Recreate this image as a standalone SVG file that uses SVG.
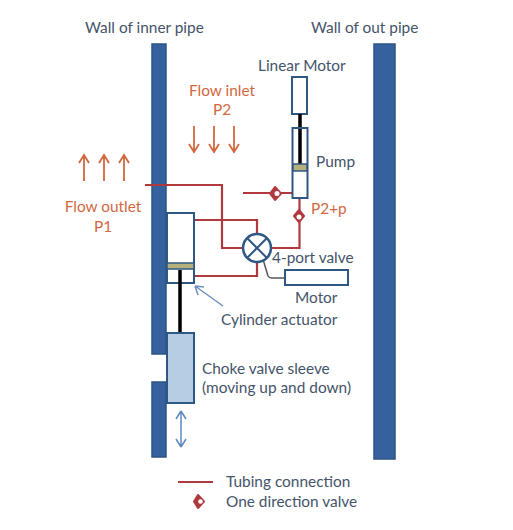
<svg xmlns="http://www.w3.org/2000/svg" width="513" height="530" viewBox="0 0 513 530">
<style>
text{font-family:"Lato","Open Sans","Liberation Sans",sans-serif;font-size:15.400px}
.d{fill:#44546a}.o{fill:#d2683f}
.wall{fill:#35629f;stroke:#2c5486;stroke-width:1.5}
.box{fill:#fff;stroke:#2f5783;stroke-width:2}
.t{fill:none;stroke:#b0393f;stroke-width:2.2}
.rod{stroke:#000;stroke-width:3.5}
.pis{fill:#b5b07c;stroke:#2f5783;stroke-width:1.5}
.ar{fill:none;stroke:#d2683f;stroke-width:1.8}
.vf{fill:#b0393f;stroke:#b0393f;stroke-width:2;stroke-linejoin:round}
</style>
<rect width="513" height="530" fill="#fff"/>
<g id="walls">
<path class="wall" d="M152 44H166V354H152Z"/>
<path class="wall" d="M152 382H166V457H152Z"/>
<rect class="wall" x="374" y="44" width="21" height="415"/>
</g>
<g id="connectors">
<path class="t" d="M145 185H222V248H244"/>
<path class="t" d="M194 220H257V234"/>
<path class="t" d="M194 276H257V262"/>
<path class="t" d="M271 248H299.500V199"/>
<path class="t" d="M243 193H292"/>
<path d="M262 256L268 276Q269 278 272 278H285" fill="none" stroke="#555" stroke-width="1.5"/>
<path d="M223 306L195 286M195 286l9 1M195 286l3 9" fill="none" stroke="#6f8fc0" stroke-width="1.5"/>
<path d="M181 411V447M181 411l-5 8M181 411l5 8M181 447l-5 -8M181 447l5 -8" fill="none" stroke="#5f88c0" stroke-width="1.5"/>
</g>
<g id="linear-motor"><rect class="box" x="292" y="77" width="15" height="37"/><text class="d" x="258" y="71">Linear Motor</text></g>
<g id="pump">
<line class="rod" x1="300" y1="114" x2="300" y2="165"/>
<rect x="292.500" y="128" width="15" height="70" fill="none" stroke="#2f5783" stroke-width="2"/>
<rect class="pis" x="293" y="164" width="14" height="7"/>
<text class="d" x="316" y="167">Pump</text>
</g>
<g id="check-valve-1"><path class="vf" d="M275 187L270 193.500L275 200L281 193.500Z"/><circle cx="277" cy="193.500" r="2.500" fill="#fff"/></g>
<g id="check-valve-2"><path class="vf" d="M299 210L294 216L299 222L304 216Z"/><circle cx="299" cy="217" r="2.500" fill="#fff"/></g>
<g id="actuator">
<rect class="box" x="167" y="213" width="27" height="70"/>
<rect class="pis" x="167" y="263" width="27" height="6"/>
<line class="rod" x1="180" y1="270" x2="180" y2="333"/>
<text class="d" x="221" y="325">Cylinder actuator</text>
</g>
<g id="four-port-valve">
<circle cx="257" cy="248" r="14" fill="#fff" stroke="#2f5783" stroke-width="2.500"/>
<path d="M247 238L267 258M267 238L247 258" stroke="#2f5783" stroke-width="2"/>
<text class="d" x="272" y="263">4-port valve</text>
</g>
<g id="motor"><rect class="box" x="285" y="270" width="63" height="15"/><text class="d" x="295" y="303">Motor</text></g>
<g id="sleeve">
<rect x="167" y="333" width="27" height="70" fill="#b6cde3" stroke="#2f5783" stroke-width="2"/>
<text class="d" x="202" y="374">Choke valve sleeve</text>
<text class="d" x="202" y="393">(moving up and down)</text>
</g>
<g id="labels">
<text class="d" x="85" y="33">Wall of inner pipe</text>
<text class="d" x="311" y="33">Wall of out pipe</text>
<text class="o" x="222" y="96" text-anchor="middle">Flow inlet</text>
<text class="o" x="222" y="115" text-anchor="middle">P2</text>
<text class="o" x="103" y="212" text-anchor="middle">Flow outlet</text>
<text class="o" x="103" y="232" text-anchor="middle">P1</text>
<text class="o" x="311" y="214">P2+p</text>
</g>
<g id="flow-arrows">
<path class="ar" d="M194 126V152M189 144l5 8l5 -8M214 126V152M209 144l5 8l5 -8M234 126V152M229 144l5 8l5 -8"/>
<path class="ar" d="M84 181V155M79 163l5 -8l5 8M104 181V155M99 163l5 -8l5 8M124 181V155M119 163l5 -8l5 8"/>
</g>
<g id="legend">
<line class="t" x1="178" y1="482" x2="213" y2="482"/>
<path class="vf" d="M198 495L194 501.500L198 508L204 501.500Z"/><circle cx="200.500" cy="501.500" r="2.300" fill="#fff"/>
<text class="d" x="226" y="487">Tubing connection</text>
<text class="d" x="226" y="507">One direction valve</text>
</g>
</svg>
